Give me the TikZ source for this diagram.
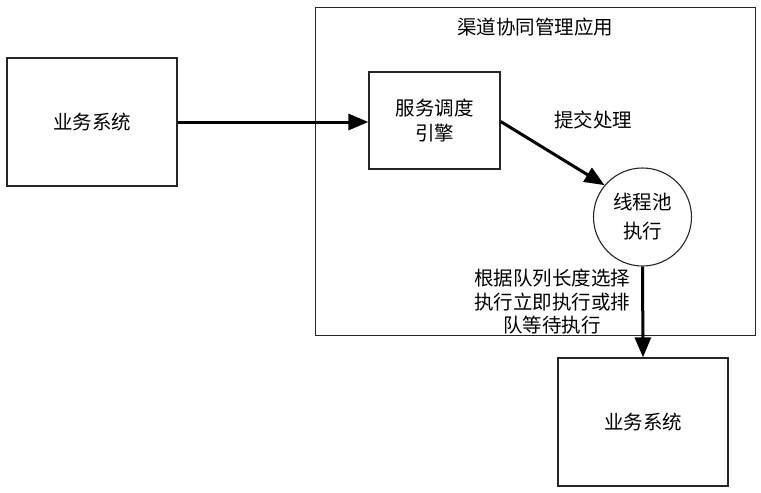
\documentclass[tikz,border=0pt]{standalone}
\usepackage{fontspec}
\setmainfont{Noto Sans CJK SC}
\usetikzlibrary{arrows.meta}
\begin{document}
\begin{tikzpicture}[x=1pt,y=-1pt,
  box/.style={draw=black!85,line width=1.3pt,inner sep=0pt,font=\fontsize{19.5}{25}\selectfont,align=center},
  lbl/.style={inner sep=0pt,font=\fontsize{19.5}{23.5}\selectfont,align=center},
  conn/.style={line width=3pt,-{Triangle[length=20pt,width=16pt]}}]
\useasboundingbox (0,0) rectangle (761,493);
\node[draw=black!85,line width=1.1pt,minimum width=440pt,minimum height=328pt,inner sep=0pt] (app) at (535.5,171.5) {};
\node[lbl] (title) at (535,27) {渠道协同管理应用};
\node[box,minimum width=170pt,minimum height=128pt] (src) at (92,122) {业务系统};
\node[box,minimum width=131pt,minimum height=97pt] (eng) at (434.5,120.5) {服务调度\\引擎};
\node[draw=black!85,line width=1.1pt,circle,minimum size=98pt,inner sep=0pt,font=\fontsize{19.5}{29}\selectfont,align=center] (pool) at (642.5,217) {线程池\\执行};
\node[box,minimum width=170pt,minimum height=128pt] (dst) at (643,422) {业务系统};
\node[lbl] (submit) at (593,120) {提交处理};
\node[lbl] (rule) at (552,302) {根据队列长度选择\\执行立即执行或排\\队等待执行};
\draw[conn] (src.east) -- (src.east -| eng.west);
\draw[conn] ([yshift=-1pt]eng.east) -- (pool.140);
\draw[conn] (pool.south) -- (dst.north);
\end{tikzpicture}
\end{document}
